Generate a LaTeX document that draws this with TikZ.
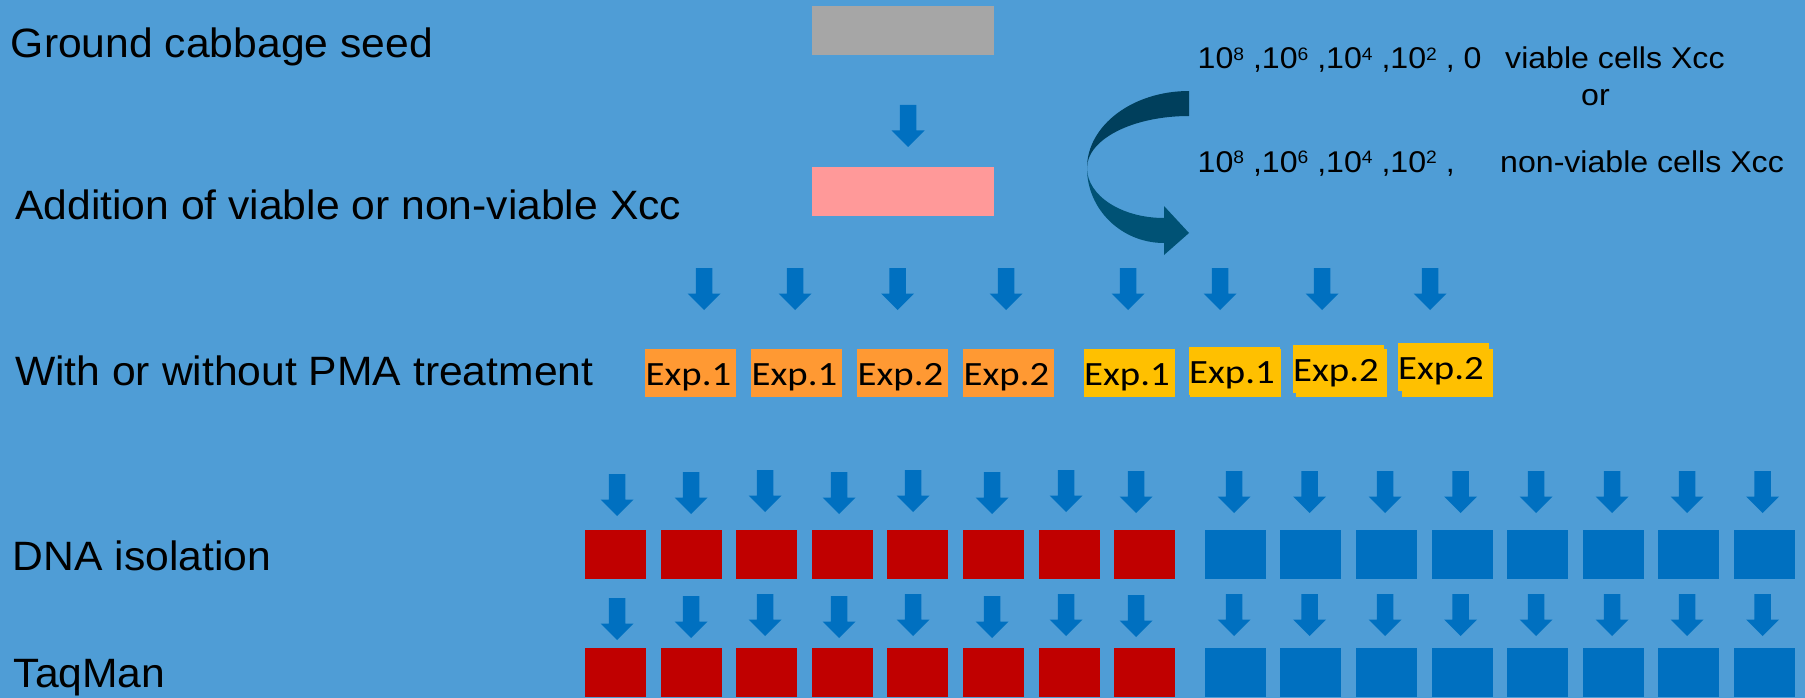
\documentclass[tikz,border=0pt]{standalone}
\usepackage{fontspec}
\setmainfont{Liberation Sans}
\newfontfamily\lblfont[FakeStretch=1.04]{Liberation Sans}
\newfontfamily\dosefont[FakeStretch=1.07]{Liberation Sans}
\newfontfamily\expfont[FakeStretch=1.14]{Carlito}

\definecolor{bg}{HTML}{4F9DD6}
\definecolor{arrowblue}{HTML}{0070C0}
\definecolor{darkred}{HTML}{C00000}
\definecolor{orangefill}{HTML}{FF9933}
\definecolor{yellowfill}{HTML}{FFC000}
\definecolor{greyfill}{HTML}{A6A6A6}
\definecolor{pinkfill}{HTML}{FF9999}
\definecolor{ribbontop}{HTML}{003F5C}
\definecolor{ribbonbot}{HTML}{005275}

% power of ten exponent
\newcommand\pw[1]{\raisebox{8.5pt}{\fontsize{18}{18}\selectfont #1}}

\tikzset{
  blk/.style={anchor=north west, inner sep=0pt, outer sep=0pt, draw=none, fill=#1},
  sq/.style={blk=#1, minimum width=61pt, minimum height=49pt},
  expbox/.style={blk=#1, minimum width=91pt, minimum height=48pt},
  bar/.style={blk=#1, minimum width=182pt, minimum height=49pt},
  lbl/.style={anchor=base west, inner sep=0pt, font=\lblfont\fontsize{41}{48}\selectfont},
  dose/.style={anchor=base west, inner sep=0pt, font=\dosefont\fontsize{30}{34}\selectfont},
  exptxt/.style={anchor=base west, inner sep=0pt, font=\expfont\fontsize{34}{40}\selectfont},
  pics/downarr/.style={code={
    \fill[arrowblue] (-8.25,0) -- (8.25,0) -- (8.25,25.5) -- (16.5,25.5)
      -- (0,42) -- (-16.5,25.5) -- (-8.25,25.5) -- cycle;}}
}

\begin{document}
\begin{tikzpicture}[x=1pt, y=-1pt]
\useasboundingbox (0,0) rectangle (1805,698);
\fill[bg] (0,0) rectangle (1805,698);

% step labels
\node[lbl] (l-seed) at (10.7,57.3) {Ground cabbage seed};
\node[lbl] (l-add)  at (15,219.3) {Addition of viable or non-viable Xcc};
\node[lbl] (l-pma)  at (15,385) {With or without PMA treatment};
\node[lbl] (l-dna)  at (12.6,570) {DNA isolation};
\node[lbl] (l-taq)  at (13.5,687) {TaqMan};

% seed and inoculated seed
\node[bar=greyfill] (seed) at (812,6) {};
\node[bar=pinkfill] (addx) at (812,167) {};
\pic at (908,105) {downarr};

% inoculum levels
\node[dose] (d1)  at (1197.5,69) {10\pw{8} ,10\pw{6} ,10\pw{4} ,10\pw{2} , 0};
\node[dose] (d1t) at (1505,69) {viable cells Xcc};
\node[dose] (dor) at (1581,106) {or};
\node[dose] (d2)  at (1197.5,172) {10\pw{8} ,10\pw{6} ,10\pw{4} ,10\pw{2} ,};
\node[dose] (d2t) at (1500,172) {non-viable cells Xcc};

% curved ribbon arrow
\fill[ribbontop] (1189,91) .. controls (1132.7,91) and (1087,125.5) .. (1087,168)
  .. controls (1087,139.3) and (1132.7,116) .. (1189,116) -- cycle;
\fill[ribbonbot] (1087,168) .. controls (1087,209.4) and (1121.5,243) .. (1164,243)
  -- (1164,255) -- (1189,233) -- (1164,206) -- (1164,218)
  .. controls (1121.5,218) and (1087,195.6) .. (1087,168) -- cycle;

% experiment arrows
\foreach \x in {704,795,897.5,1006,1128,1220,1322,1430}
  \pic at (\x,268) {downarr};

% experiments without PMA
\foreach \x/\n [count=\i] in {645/1,751/1,857/2,963/2} {
  \node[expbox=orangefill] (o\i) at (\x,349) {};
  \node[exptxt] (to\i) at (\x+0.5,385) {Exp.\n};
}

% experiments with PMA
\fill[yellowfill] (1190,349) rectangle (1281,397);
\fill[yellowfill] (1296,349) rectangle (1387,397);
\fill[yellowfill] (1402,349) rectangle (1493,397);
\foreach \x/\y/\b/\n [count=\i] in {1084/349/385/1,1189/347/383/1,1293/345/381.5/2,1398/343/379/2} {
  \node[expbox=yellowfill] (y\i) at (\x,\y) {};
  \node[exptxt] (ty\i) at (\x,\b) {Exp.\n};
}

% DNA isolation and TaqMan, without PMA
\foreach \x/\t [count=\i] in {617/474,691/472,765/470,839/472,913/470,992/472,1066/470,1136/471} {
  \pic at (\x,\t) {downarr};
  \pic at (\x,\t+124) {downarr};
}
\foreach \x [count=\i] in {585,661,736,812,887,963,1039,1114} {
  \node[sq=darkred] (dr\i) at (\x,530) {};
  \node[sq=darkred] (tr\i) at (\x,648) {};
}

% DNA isolation and TaqMan, with PMA
\foreach \x [count=\i] in {1234,1309.5,1385,1460.5,1536,1612,1687,1762.5} {
  \pic at (\x,471) {downarr};
  \pic at (\x,594) {downarr};
}
\foreach \x [count=\i] in {1205,1280,1356,1432,1507,1583,1658,1734} {
  \node[sq=arrowblue] (db\i) at (\x,530) {};
  \node[sq=arrowblue] (tb\i) at (\x,648) {};
}
\end{tikzpicture}
\end{document}
